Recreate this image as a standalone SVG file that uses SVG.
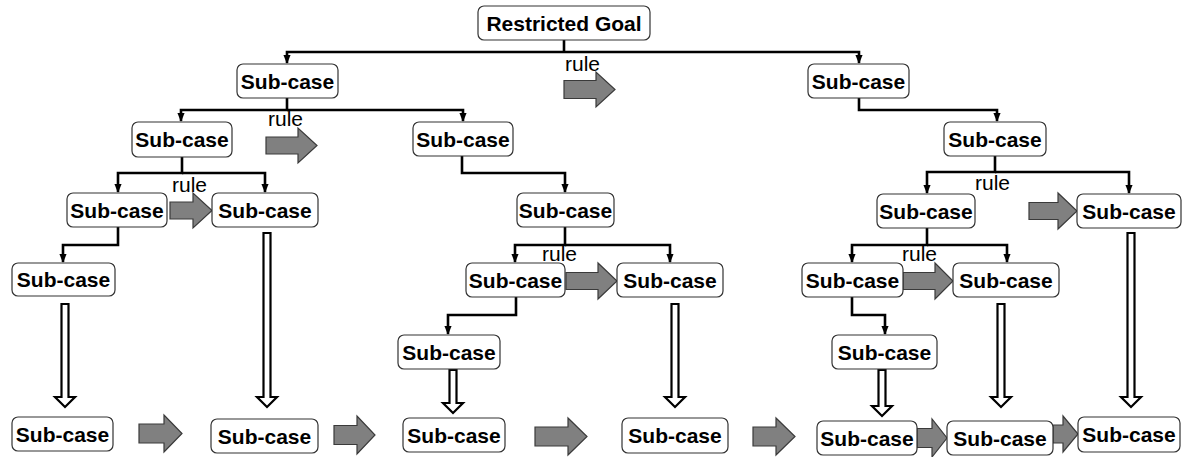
<svg xmlns="http://www.w3.org/2000/svg" width="1187" height="457" viewBox="0 0 1187 457">
  <style>
    .box { fill: #ffffff; stroke: #333333; stroke-width: 1.2; }
    .lbl { font-family: "Liberation Sans", Arial, sans-serif; font-weight: bold; font-size: 21px; text-anchor: middle; fill: #000; }
    .rule { font-family: "Liberation Sans", Arial, sans-serif; font-size: 21px; fill: #000; }
    .link { fill: none; stroke: #000; stroke-width: 2.6; }
    .step { fill: #808080; stroke: #3a3a3a; stroke-width: 1.2; }
    .derive { fill: #ffffff; stroke: #000; stroke-width: 2.2; }
  </style>
  <defs>
    <marker id="head" markerUnits="userSpaceOnUse" markerWidth="9" markerHeight="10" refX="9" refY="4" orient="auto" viewBox="0 0 10 8">
      <path d="M0,0 L10,4 L0,8 Z" fill="#000"/>
    </marker>
  </defs>

  <!-- tree connectors -->
  <g id="connectors">
    <path class="link" d="M564 40 V52"/>
    <path class="link" d="M564 52 H287 V63" marker-end="url(#head)"/>
    <path class="link" d="M564 52 H859 V63" marker-end="url(#head)"/>
    <path class="link" d="M287 98 V110 H181 V121" marker-end="url(#head)"/>
    <path class="link" d="M287 110 H463 V121" marker-end="url(#head)"/>
    <path class="link" d="M859 98 V110 H997 V121" marker-end="url(#head)"/>
    <path class="link" d="M182 157 V173 H118 V192" marker-end="url(#head)"/>
    <path class="link" d="M182 173 H265 V192" marker-end="url(#head)"/>
    <path class="link" d="M462 156 V173 H565 V192" marker-end="url(#head)"/>
    <path class="link" d="M995 156 V172 H927 V193" marker-end="url(#head)"/>
    <path class="link" d="M995 172 H1129 V193" marker-end="url(#head)"/>
    <path class="link" d="M118 227 V245 H63 V262" marker-end="url(#head)"/>
    <path class="link" d="M565 227 V245 H515 V262" marker-end="url(#head)"/>
    <path class="link" d="M565 245 H670 V262" marker-end="url(#head)"/>
    <path class="link" d="M927 228 V245 H852 V262" marker-end="url(#head)"/>
    <path class="link" d="M927 245 H1007 V262" marker-end="url(#head)"/>
    <path class="link" d="M516 297 V315 H448 V334" marker-end="url(#head)"/>
    <path class="link" d="M852 297 V315 H885 V334" marker-end="url(#head)"/>

    <!-- derivation arrows (hollow) -->
    <path class="derive" d="M61.5 304 H68.5 V397 H75 L65 407 L55 397 H61.5 Z"/>
    <path class="derive" d="M263.5 233 H270.5 V397 H277 L267 407 L257 397 H263.5 Z"/>
    <path class="derive" d="M449.5 370 H456.5 V403 H463 L453 413 L443 403 H449.5 Z"/>
    <path class="derive" d="M671.5 304 H678.5 V397 H685 L675 407 L665 397 H671.5 Z"/>
    <path class="derive" d="M878.5 370 H885.5 V406 H892 L882 416 L872 406 H878.5 Z"/>
    <path class="derive" d="M997.5 304 H1004.5 V397 H1011 L1001 407 L991 397 H997.5 Z"/>
    <path class="derive" d="M1127.5 233 H1134.5 V397 H1141 L1131 407 L1121 397 H1127.5 Z"/>

    <!-- rule steps (grey block arrows) -->
    <path class="step" d="M564 80.5 H596 V72 L615 89.5 L596 107 V98.5 H564 Z"/>
    <path class="step" d="M266 137 H298 V128 L317 145.5 L298 163 V154 H266 Z"/>
    <path class="step" d="M170 202 H193 V193 L212 210.5 L193 228 V219 H170 Z"/>
    <path class="step" d="M566 272.5 H598 V263 L617 281 L598 299 V289.5 H566 Z"/>
    <path class="step" d="M1029 202.5 H1058 V193 L1077 211 L1058 229 V219.5 H1029 Z"/>
    <path class="step" d="M903 272.5 H935 V263 L953 281 L935 299 V289.5 H903 Z"/>
    <path class="step" d="M139 424 H164 V415 L182 433.5 L164 452 V443 H139 Z"/>
    <path class="step" d="M334 425.5 H357 V416 L375 435 L357 454 V444.5 H334 Z"/>
    <path class="step" d="M535 427 H568 V418 L587 436.5 L568 455 V446 H535 Z"/>
    <path class="step" d="M753 427 H776 V418 L795 436.5 L776 455 V446 H753 Z"/>
    <path class="step" d="M917 428.5 H932 V419 L947 438 L932 457 V447.5 H917 Z"/>
    <path class="step" d="M1053 425 H1063 V416 L1078 434 L1063 452 V443 H1053 Z"/>
  </g>

  <!-- rule labels -->
  <g id="rule-labels">
    <text class="rule" x="565" y="71">rule</text>
    <text class="rule" x="268" y="126">rule</text>
    <text class="rule" x="172" y="192">rule</text>
    <text class="rule" x="542" y="261">rule</text>
    <text class="rule" x="975" y="190">rule</text>
    <text class="rule" x="902" y="261">rule</text>
  </g>

  <!-- nodes -->
  <g id="root"><rect class="box" x="478" y="6" width="172" height="34" rx="6"/><text class="lbl" x="564" y="30.5">Restricted Goal</text></g>
  <g id="n1"><rect class="box" x="237" y="64" width="101" height="34" rx="6"/><text class="lbl" x="287.5" y="88.5">Sub-case</text></g>
  <g id="n2"><rect class="box" x="808" y="64" width="101" height="34" rx="6"/><text class="lbl" x="858.5" y="88.5">Sub-case</text></g>
  <g id="n3"><rect class="box" x="132" y="122" width="100" height="35" rx="6"/><text class="lbl" x="182" y="147">Sub-case</text></g>
  <g id="n4"><rect class="box" x="413" y="122" width="100" height="34" rx="6"/><text class="lbl" x="463" y="146.5">Sub-case</text></g>
  <g id="n5"><rect class="box" x="944" y="122" width="102" height="34" rx="6"/><text class="lbl" x="995" y="146.5">Sub-case</text></g>
  <g id="n6"><rect class="box" x="67" y="193" width="100" height="34" rx="6"/><text class="lbl" x="117" y="217.5">Sub-case</text></g>
  <g id="n7"><rect class="box" x="212" y="193" width="106" height="34" rx="6"/><text class="lbl" x="265" y="217.5">Sub-case</text></g>
  <g id="n8"><rect class="box" x="517" y="193" width="97" height="34" rx="6"/><text class="lbl" x="565.5" y="217.5">Sub-case</text></g>
  <g id="n9"><rect class="box" x="877" y="194" width="98" height="34" rx="6"/><text class="lbl" x="926" y="218.5">Sub-case</text></g>
  <g id="n10"><rect class="box" x="1077" y="194" width="104" height="34" rx="6"/><text class="lbl" x="1129" y="218.5">Sub-case</text></g>
  <g id="n11"><rect class="box" x="12" y="263" width="103" height="33" rx="6"/><text class="lbl" x="63.5" y="287">Sub-case</text></g>
  <g id="n12"><rect class="box" x="466" y="263" width="99" height="34" rx="6"/><text class="lbl" x="515.5" y="287.5">Sub-case</text></g>
  <g id="n13"><rect class="box" x="617" y="263" width="106" height="34" rx="6"/><text class="lbl" x="670" y="287.5">Sub-case</text></g>
  <g id="n14"><rect class="box" x="802" y="263" width="101" height="34" rx="6"/><text class="lbl" x="852.5" y="287.5">Sub-case</text></g>
  <g id="n15"><rect class="box" x="953" y="263" width="106" height="34" rx="6"/><text class="lbl" x="1006" y="287.5">Sub-case</text></g>
  <g id="n16"><rect class="box" x="398" y="335" width="102" height="34" rx="6"/><text class="lbl" x="449" y="359.5">Sub-case</text></g>
  <g id="n17"><rect class="box" x="832" y="335" width="105" height="34" rx="6"/><text class="lbl" x="884.5" y="359.5">Sub-case</text></g>
  <g id="b1"><rect class="box" x="12" y="417" width="101" height="34" rx="6"/><text class="lbl" x="62.5" y="441.5">Sub-case</text></g>
  <g id="b2"><rect class="box" x="211" y="419" width="107" height="34" rx="6"/><text class="lbl" x="264.5" y="443.5">Sub-case</text></g>
  <g id="b3"><rect class="box" x="403" y="418" width="102" height="34" rx="6"/><text class="lbl" x="454" y="442.5">Sub-case</text></g>
  <g id="b4"><rect class="box" x="622" y="418" width="106" height="35" rx="6"/><text class="lbl" x="675" y="443">Sub-case</text></g>
  <g id="b5"><rect class="box" x="817" y="421" width="100" height="34" rx="6"/><text class="lbl" x="867" y="445.5">Sub-case</text></g>
  <g id="b6"><rect class="box" x="947" y="421" width="106" height="34" rx="6"/><text class="lbl" x="1000" y="445.5">Sub-case</text></g>
  <g id="b7"><rect class="box" x="1078" y="417" width="102" height="35" rx="6"/><text class="lbl" x="1129" y="442">Sub-case</text></g>
</svg>
